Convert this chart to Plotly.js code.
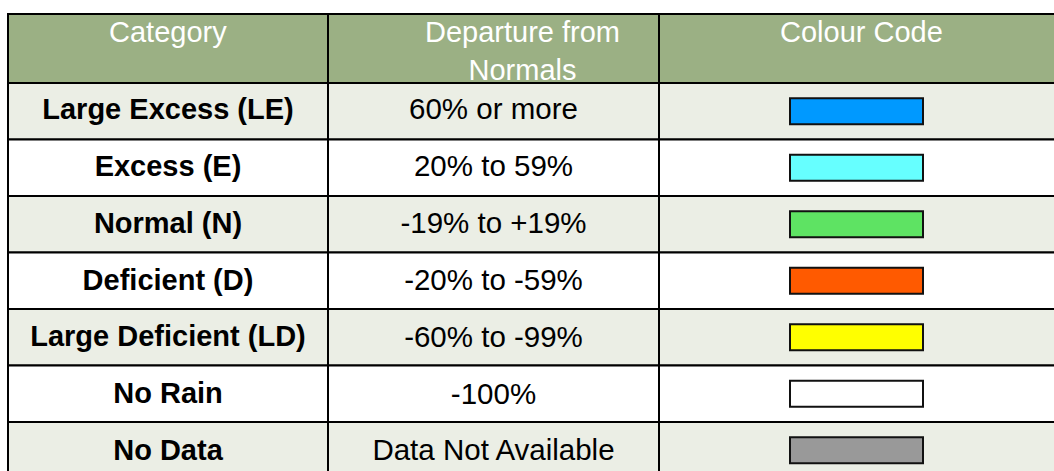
<!DOCTYPE html>
<html>
<head>
<meta charset="utf-8">
<script src="https://cdn.plot.ly/plotly-3.0.1.min.js"></script>
<style>html,body{margin:0;padding:0;background:#fff;}#chart{width:1054px;height:471px;}</style>
</head>
<body>
<div id="chart"></div>
<script>
// ---- data ----
const headers = ["Category", "Departure from<br>Normals", "Colour Code"];
const categories = ["Large Excess (LE)", "Excess (E)", "Normal (N)", "Deficient (D)", "Large Deficient (LD)", "No Rain", "No Data"];
const departures = ["60% or more", "20% to 59%", "-19% to +19%", "-20% to -59%", "-60% to -99%", "-100%", "Data Not Available"];
const colourCodes = ["#0099FF", "#66FFFF", "#5EE363", "#FF5A00", "#FFFF00", "#FFFFFF", "#999999"];

// ---- layout geometry (pixels) ----
const W = 1054, H = 471;
const colEdges = [8, 328, 659, 1080];
const headerTop = 14, headerBottom = 83, rowH = 56.5;
const swatchLeft = 790, swatchWidth = 133, swatchHeight = 26;
const headerFill = "#9BB084", stripeFill = "#EBEEE5", plainFill = "#FFFFFF";
const font = "Liberation Sans, Arial, sans-serif";
const textDrop = 3; // px the body text sits below row centre

const rowFills = categories.map((c, i) => i % 2 === 0 ? stripeFill : plainFill);
const bodyPx = H - headerBottom;
const visibleRows = bodyPx / rowH;
const extra = 3 / (headerBottom - headerTop);

const traces = [];
// body cells (grid via outlines)
for (let c = 0; c < 3; c++) {
  traces.push({
    type: "bar", orientation: "h", xaxis: "x", yaxis: "y",
    y: categories, x: categories.map(() => colEdges[c + 1] - colEdges[c]),
    base: categories.map(() => colEdges[c]), width: 1,
    marker: {color: rowFills, line: {color: "#000", width: 2}},
    hoverinfo: "skip", showlegend: false
  });
}
// header cells
for (let c = 0; c < 3; c++) {
  traces.push({
    type: "bar", orientation: "h", xaxis: "x", yaxis: "y2",
    y: [0.5], x: [colEdges[c + 1] - colEdges[c]], base: [colEdges[c]], width: 1,
    marker: {color: headerFill, line: {color: "#000", width: 2}},
    hoverinfo: "skip", showlegend: false
  });
}
// colour swatches
traces.push({
  type: "bar", orientation: "h", xaxis: "x", yaxis: "y",
  y: categories, x: categories.map(() => swatchWidth), base: categories.map(() => swatchLeft),
  width: swatchHeight / rowH,
  marker: {color: colourCodes, line: {color: "#111", width: 2}},
  hoverinfo: "skip", showlegend: false
});
// category text
traces.push({
  type: "scatter", mode: "text", xaxis: "x", yaxis: "y3",
  x: categories.map(() => (colEdges[0] + colEdges[1]) / 2), y: categories, text: categories,
  textposition: "middle center",
  textfont: {family: font, size: 29, color: "#000", weight: "bold"},
  hoverinfo: "skip", showlegend: false, cliponaxis: false
});
// departure text
traces.push({
  type: "scatter", mode: "text", xaxis: "x", yaxis: "y3",
  x: categories.map(() => (colEdges[1] + colEdges[2]) / 2), y: categories, text: departures,
  textposition: "middle center",
  textfont: {family: font, size: 29.5, color: "#000"},
  hoverinfo: "skip", showlegend: false, cliponaxis: false
});

const headerCenters = [(colEdges[0] + colEdges[1]) / 2, 522, 861];
const annotations = headers.map((h, i) => ({
  xref: "x", yref: "y2", x: headerCenters[i], y: 0, yanchor: "top", xanchor: "center",
  text: h, showarrow: false, align: "center", yshift: 0,
  font: {family: font, size: 29, color: "#FFFFFF"}
}));

const layout = {
  width: W, height: H, margin: {l: 0, r: 0, t: 0, b: 0, pad: 0},
  paper_bgcolor: "#fff", plot_bgcolor: "rgba(0,0,0,0)",
  barmode: "overlay", showlegend: false,
  xaxis: {range: [0, W], domain: [0, 1], visible: false, fixedrange: true},
  yaxis: {type: "category", categoryorder: "array", categoryarray: categories,
          range: [-0.5 + visibleRows, -0.5], domain: [0, bodyPx / H],
          visible: false, fixedrange: true},
  yaxis2: {range: [1, -extra], domain: [bodyPx / H, (H - headerTop + 3) / H],
           visible: false, fixedrange: true, anchor: "x"},
  yaxis3: {type: "category", categoryorder: "array", categoryarray: categories,
           range: [-0.5 + (bodyPx - textDrop) / rowH, -0.5], domain: [0, (bodyPx - textDrop) / H],
           visible: false, fixedrange: true, anchor: "x", overlaying: "y"},
  annotations: annotations
};

Plotly.newPlot("chart", traces, layout, {displayModeBar: false, staticPlot: true});
</script>
</body>
</html>
